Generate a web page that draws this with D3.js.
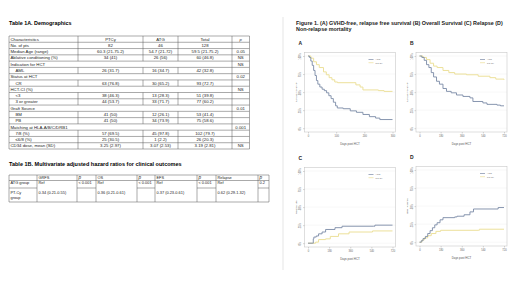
<!DOCTYPE html>
<html>
<head>
<meta charset="utf-8">
<script src="https://cdn.jsdelivr.net/npm/d3@7"></script>
<style>
body { margin: 0; background: #fff; }
text { font-family: "Liberation Sans", Arial, sans-serif; }
</style>
</head>
<body>
<div id="chart"></div>
<script>
// ---- Table 1A data ----
var demoHeader = ["Characteristics", "PTCy", "ATG", "Total", "p"];
var demoLabels = ["No. of pts", "Median Age (range)", "Ablative conditioning (%)", "Indication for HCT", "AML",
    "Status at HCT", "CR", "HCT-CI (%)", "<3", "3 or greater", "Graft Source", "BM", "PB",
    "Matching at HLA-A/B/C/DRB1", "7/8 (%)", "\u22646/8 (%)", "CD34 dose, mean (SD)"];
var demoPTCy = ["82", "60.3 (21-75.2)", "34 (41)", "", "26 (31.7)", "", "63 (76.8)", "", "38 (46.3)", "44 (53.7)", "",
    "41 (50)", "41 (50)", "", "57 (69.5)", "25 (30.5)", "3.25 (2.97)"];
var demoATG = ["46", "54.7 (21-72)", "26 (56)", "", "16 (34.7)", "", "30 (65.2)", "", "13 (28.3)", "33 (71.7)", "",
    "12 (26.1)", "34 (73.9)", "", "45 (97.8)", "1 (2.2)", "3.07 (2.53)"];
var demoTotal = ["128", "59.5 (21-75.2)", "60 (46.8)", "", "42 (32.8)", "", "93 (72.7)", "", "51 (39.8)", "77 (60.2)", "",
    "53 (41.4)", "75 (58.6)", "", "102 (79.7)", "26 (20.3)", "3.19 (2.81)"];
var demoP = ["", "0.05", "NS", "NS", "", "0.02", "", "NS", "", "", "0.01", "", "", "0.001", "", "", "NS"];
var demoSections = ["Indication for HCT", "Status at HCT", "HCT-CI (%)", "Graft Source", "Matching at HLA-A/B/C/DRB1"];
var demoSubRows = ["AML", "CR", "<3", "3 or greater", "BM", "PB", "7/8 (%)", "\u22646/8 (%)"];

// ---- Table 1B data ----
var hrOutcomes = ["GRFS", "OS", "EFS", "Relapse"];
var hrGroups = ["ATG group", "PT-Cy group"];
var hrATG = ["Ref", "Ref", "Ref", "Ref"];
var hrPTCy = ["0.34 (0.21-0.55)", "0.36 (0.21-0.61)", "0.37 (0.23-0.61)", "0.62 (0.29-1.32)"];
var hrP = ["< 0.001", "< 0.001", "< 0.001", "0.2"];

// ---- Figure 1 data, [day, probability] ----
var grfsATG = [[0,1],[5,0.98],[10,0.93],[15,0.87],[20,0.8],[25,0.73],[30,0.66],[35,0.61],[42,0.57],[50,0.54],[58,0.52],
    [66,0.49],[74,0.45],[82,0.41],[90,0.36],[98,0.31],[104,0.28],[125,0.27],[150,0.24],[172,0.22],[195,0.19],
    [218,0.16],[240,0.14],[255,0.12],[300,0.12]];
var grfsPTCy = [[0,1],[10,0.97],[20,0.92],[30,0.88],[40,0.84],[55,0.78],[65,0.74],[75,0.7],[85,0.67],[95,0.64],
    [105,0.63],[160,0.63],[170,0.6],[185,0.57],[195,0.53],[250,0.52],[270,0.51],[300,0.51]];
var osATG = [[0,1],[20,0.98],[40,0.94],[60,0.88],[80,0.84],[100,0.77],[120,0.71],[145,0.65],[170,0.61],[200,0.55],
    [230,0.51],[270,0.49],[315,0.46],[370,0.44],[430,0.42],[455,0.37],[540,0.35],[575,0.33],[660,0.32],[690,0.31],[720,0.31]];
var osPTCy = [[0,1],[30,0.98],[60,0.95],[90,0.9],[120,0.86],[150,0.84],[200,0.8],[250,0.77],[300,0.75],[400,0.74],
    [500,0.72],[600,0.7],[650,0.68],[720,0.67]];
var relATG = [[0,0],[40,0],[45,0.06],[50,0.085],[70,0.1],[90,0.13],[120,0.155],[150,0.19],[230,0.215],[290,0.235],
    [560,0.235],[570,0.25],[720,0.25]];
var relPTCy = [[0,0],[60,0],[65,0.015],[90,0.05],[150,0.06],[190,0.094],[260,0.13],[350,0.155],[550,0.17],[720,0.17]];
var nrmATG = [[0,0],[15,0.02],[30,0.05],[50,0.08],[70,0.12],[90,0.16],[110,0.2],[130,0.24],[150,0.27],[175,0.31],
    [200,0.34],[300,0.35],[320,0.36],[380,0.38],[430,0.42],[460,0.46],[660,0.46],[670,0.48],[720,0.48]];
var nrmPTCy = [[0,0],[20,0.03],[40,0.06],[70,0.09],[100,0.12],[140,0.15],[180,0.165],[500,0.165],[510,0.18],[720,0.18]];

var groupNames = ["ATG", "PT-Cy"];
var probTicks = [0, 0.25, 0.5, 0.75, 1];
var dayTicksShort = [0, 100, 200, 300];
var dayTicksLong = [0, 180, 360, 540, 720];

var svg = d3.select("#chart").append("svg")
    .attr("width", 520)
    .attr("height", 292);

var font = "Liberation Sans, Arial, sans-serif";

// ================= Table 1A =================
svg.append("text")
    .attr("x", 9).attr("y", 24.5)
    .attr("font-size", "5.4px").attr("font-weight", "bold")
    .text("Table 1A. Demographics");

var colEdges = [9, 78, 143, 178, 232, 249.5];
var nRows = demoLabels.length + 1;
var rowScale = d3.scaleBand().domain(d3.range(nRows)).range([36, 149]);
var rh = rowScale.bandwidth();

var t1 = svg.append("g").attr("font-size", "4.3px").attr("fill", "#222");

// all rows: header first
var rowsA = [demoHeader].concat(demoLabels.map(function(d, i) {
    return [d, demoPTCy[i], demoATG[i], demoTotal[i], demoP[i]];
}));

rowsA.forEach(function(r, i) {
    var y0 = rowScale(i);
    var isSection = demoSections.indexOf(r[0]) >= 0;
    // horizontal line
    t1.append("line")
        .attr("x1", colEdges[0]).attr("x2", colEdges[5])
        .attr("y1", y0).attr("y2", y0)
        .attr("stroke", "#555").attr("stroke-width", 0.5);
    // vertical lines
    colEdges.forEach(function(x, j) {
        if (isSection && j >= 1 && j <= 3) return;
        t1.append("line")
            .attr("x1", x).attr("x2", x)
            .attr("y1", y0).attr("y2", y0 + rh)
            .attr("stroke", "#555").attr("stroke-width", 0.5);
    });
    r.forEach(function(v, j) {
        if (!v) return;
        var txt = t1.append("text")
            .attr("y", y0 + rh / 2)
            .attr("dy", "0.35em");
        if (j == 0) {
            var sub = demoSubRows.indexOf(v) >= 0;
            txt.attr("x", colEdges[0] + (sub ? 6.5 : 1.5));
        } else {
            txt.attr("x", (colEdges[j] + colEdges[j + 1]) / 2).attr("text-anchor", "middle");
        }
        if (i == 0 && j == 4) txt.attr("font-style", "italic");
        txt.text(v);
    });
});
t1.append("line")
    .attr("x1", colEdges[0]).attr("x2", colEdges[5])
    .attr("y1", rowScale(nRows - 1) + rh).attr("y2", rowScale(nRows - 1) + rh)
    .attr("stroke", "#555").attr("stroke-width", 0.5);

// ================= Table 1B =================
svg.append("text")
    .attr("x", 9).attr("y", 165.5)
    .attr("font-size", "5.5px").attr("font-weight", "bold")
    .text("Table 1B. Multivariate adjusted hazard ratios for clinical outcomes");

var hrEdges = [9, 37, 77, 96, 137, 155, 197, 216, 258, 269];
var hrRows = [175, 180.5, 188, 202];
var t2 = svg.append("g").attr("font-size", "3.9px").attr("fill", "#222");

// horizontal lines (p cells span both group rows)
[0, 1, 3].forEach(function(k) {
    t2.append("line")
        .attr("x1", hrEdges[0]).attr("x2", hrEdges[9])
        .attr("y1", hrRows[k]).attr("y2", hrRows[k])
        .attr("stroke", "#555").attr("stroke-width", 0.5);
});
hrEdges.slice(0, 9).forEach(function(x, j) {
    if (j % 2 == 0) {
        t2.append("line")
            .attr("x1", x).attr("x2", hrEdges[j + 1])
            .attr("y1", hrRows[2]).attr("y2", hrRows[2])
            .attr("stroke", "#555").attr("stroke-width", 0.5);
    }
});
hrEdges.forEach(function(x) {
    t2.append("line")
        .attr("x1", x).attr("x2", x)
        .attr("y1", hrRows[0]).attr("y2", hrRows[3])
        .attr("stroke", "#555").attr("stroke-width", 0.5);
});

hrOutcomes.forEach(function(o, k) {
    var xv = hrEdges[1 + k * 2] + 1.5;
    var xp = hrEdges[2 + k * 2] + 1.5;
    t2.append("text").attr("x", xv).attr("y", hrRows[0] + 3.6).text(o);
    t2.append("text").attr("x", xp).attr("y", hrRows[0] + 4.2).attr("font-style", "italic")
        .attr("font-size", "4.6px").text("p");
    t2.append("text").attr("x", xv).attr("y", hrRows[1] + 3.2).text(hrATG[k]);
    t2.append("text").attr("x", xp).attr("y", hrRows[1] + 3.2).text(hrP[k]);
    t2.append("text").attr("x", xv).attr("y", hrRows[2] + 5.6).text(hrPTCy[k]);
});
t2.append("text").attr("x", hrEdges[0] + 1.5).attr("y", hrRows[1] + 3.2).text(hrGroups[0]);
t2.append("text").attr("x", hrEdges[0] + 1.5).attr("y", hrRows[2] + 5.6).text("PT-Cy");
t2.append("text").attr("x", hrEdges[0] + 1.5).attr("y", hrRows[2] + 11.2).text("group");

// ================= Figure 1 =================
svg.append("line")
    .attr("x1", 283).attr("x2", 283).attr("y1", 17).attr("y2", 270)
    .attr("stroke", "#d4d4d4").attr("stroke-width", 0.6);

svg.append("text")
    .attr("x", 296).attr("y", 24.5)
    .attr("font-size", "5.4px").attr("font-weight", "bold").attr("fill", "#222")
    .text("Figure 1. (A) GVHD-free, relapse free survival (B) Overall Survival (C) Relapse (D)");
svg.append("text")
    .attr("x", 296).attr("y", 30.8)
    .attr("font-size", "5.4px").attr("font-weight", "bold").attr("fill", "#222")
    .text("Non-relapse mortality");

var colATG = "#7b8aa6";
var colPTCy = "#ece09a";

var panels = [
    {letter: "A", x: 304.5, y: 52.5, ylab: "Survival probability", days: dayTicksShort, xmax: 300, atg: grfsATG, ptcy: grfsPTCy},
    {letter: "B", x: 416, y: 52.5, ylab: "Survival probability", days: dayTicksLong, xmax: 720, atg: osATG, ptcy: osPTCy},
    {letter: "C", x: 304.5, y: 167.5, ylab: "Relapse rate", days: dayTicksLong, xmax: 720, atg: relATG, ptcy: relPTCy},
    {letter: "D", x: 416, y: 166.5, ylab: "NRM incidence", days: dayTicksLong, xmax: 720, atg: nrmATG, ptcy: nrmPTCy}
];

var bw = 91, bh = 79.5;

panels.forEach(function(p) {
    var g = svg.append("g").attr("transform", "translate(" + p.x + "," + p.y + ")");

    var x = d3.scaleLinear().domain([0, p.xmax]).range([3.5, bw - 3]);
    var y = d3.scaleLinear().domain([0, 1]).range([bh - 3.8, 3.5]);

    svg.append("text")
        .attr("x", p.x - 6).attr("y", p.y - 8)
        .attr("font-size", "5px").attr("font-weight", "bold").attr("fill", "#222")
        .text(p.letter);

    // grid lines
    g.selectAll(".grid").data(probTicks).enter().append("line")
        .attr("x1", 0).attr("x2", bw)
        .attr("y1", function(d) { return y(d); }).attr("y2", function(d) { return y(d); })
        .attr("stroke", "#efefef").attr("stroke-width", 0.5);

    g.append("rect")
        .attr("width", bw).attr("height", bh)
        .attr("fill", "none").attr("stroke", "#c8c8c8").attr("stroke-width", 0.6);

    // axes
    var yAxis = d3.axisLeft(y).tickValues(probTicks).tickSize(1.5)
        .tickFormat(function(d) { return (d * 100) + "%"; });
    var ya = g.append("g").call(yAxis);
    ya.select(".domain").remove();
    ya.selectAll("line").attr("stroke", "#999").attr("stroke-width", 0.4);
    ya.selectAll("text")
        .attr("font-size", "2.6px").attr("fill", "#666").attr("font-family", font)
        .attr("x", null).attr("dy", null)
        .attr("text-anchor", "middle")
        .attr("transform", "translate(-3.5,0) rotate(-90)");

    var xAxis = d3.axisBottom(x).tickValues(p.days).tickSize(1.5);
    var xa = g.append("g").attr("transform", "translate(0," + bh + ")").call(xAxis);
    xa.select(".domain").remove();
    xa.selectAll("line").attr("stroke", "#999").attr("stroke-width", 0.4);
    xa.selectAll("text")
        .attr("font-size", "2.6px").attr("fill", "#666").attr("font-family", font)
        .attr("y", 3).attr("dy", "0.71em");

    g.append("text")
        .attr("x", bw / 2).attr("y", bh + 13)
        .attr("text-anchor", "middle")
        .attr("font-size", "2.9px").attr("fill", "#555")
        .text("Days post HCT");

    g.append("text")
        .attr("transform", "translate(-8," + (bh / 2) + ") rotate(-90)")
        .attr("text-anchor", "middle")
        .attr("font-size", "2.4px").attr("fill", "#555")
        .text(p.ylab);

    // curves
    var line = d3.line()
        .x(function(d) { return x(d[0]); })
        .y(function(d) { return y(d[1]); })
        .curve(d3.curveStepAfter);

    g.append("path").datum(p.ptcy)
        .attr("d", line).attr("fill", "none")
        .attr("stroke", colPTCy).attr("stroke-width", 1);
    g.append("path").datum(p.atg)
        .attr("d", line).attr("fill", "none")
        .attr("stroke", colATG).attr("stroke-width", 0.9);

    // legend
    var lg = g.append("g").attr("transform", "translate(" + (bw - 27) + ",7)");
    groupNames.forEach(function(n, k) {
        lg.append("line")
            .attr("x1", 0).attr("x2", 5)
            .attr("y1", k * 3.2).attr("y2", k * 3.2)
            .attr("stroke", k == 0 ? colATG : colPTCy).attr("stroke-width", 0.7);
        lg.append("text")
            .attr("x", 7).attr("y", k * 3.2).attr("dy", "0.35em")
            .attr("font-size", "2.5px").attr("fill", "#666")
            .text(n);
    });
});
</script>
</body>
</html>
